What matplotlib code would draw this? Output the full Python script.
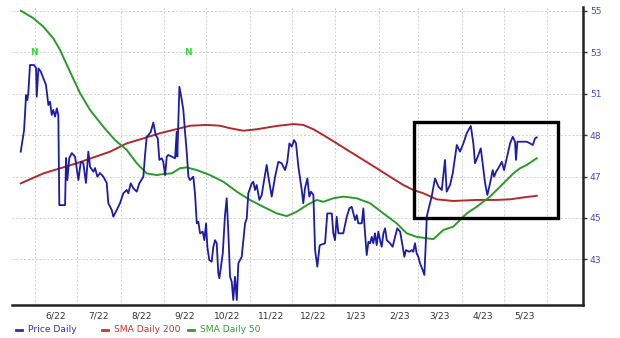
import pandas as pd
import matplotlib
matplotlib.use('Agg')
import matplotlib.pyplot as plt
import matplotlib.dates as mdates
from matplotlib.patches import Rectangle

# Chart values (x = days since 2022-06-01)
base = pd.Timestamp('2022-06-01')

price_days = [-10.2, -7.8, -6.4, -5.5, -4.8, -3.6, -0.7, 0.7, 1.2, 2.4, 4.1, 7.8, 9.5, 10.7, 11.9,
              13.0, 14.3, 15.5, 16.6, 17.3, 21.4, 22.1, 23.0, 24.4, 26.2, 28.5, 30.9, 32.6, 34.4,
              36.3, 38.0, 39.2, 41.6, 42.8, 44.4, 46.3, 48.7, 51.1, 52.2, 54.7, 55.8, 58.2, 60.6,
              62.9, 65.4, 66.5, 68.2, 70.1, 72.5, 74.3, 77.2, 78.4, 79.6, 80.8, 82.5, 84.3, 86.0,
              87.5, 88.6, 90.3, 91.4, 92.7, 93.9, 95.0, 97.4, 99.8, 101.0, 101.4, 102.9, 104.6,
              105.7, 106.9, 108.1, 109.3, 110.5, 112.8, 114.0, 115.3, 116.4, 117.6, 119.5, 120.7,
              121.9, 122.8, 124.2, 125.9, 127.1, 128.3, 129.5, 130.6, 131.4, 133.8, 135.4, 136.6,
              137.8, 139.0, 140.2, 141.3, 142.5, 143.8, 144.9, 147.3, 149.7, 150.9, 152.0, 154.5,
              155.6, 156.8, 158.0, 159.9, 161.6, 162.7, 165.1, 166.3, 168.7, 171.1, 173.4, 175.8,
              178.2, 179.8, 181.3, 183.0, 184.6, 186.0, 187.7, 190.1, 191.2, 192.4, 194.1, 195.5,
              196.7, 198.4, 199.6, 201.2, 202.8, 203.1, 206.7, 208.3, 211.5, 212.6, 213.8, 215.0,
              216.2, 219.7, 222.2, 224.0, 225.7, 226.9, 228.1, 229.3, 230.4, 232.9, 234.0, 235.2,
              236.4, 237.6, 238.8, 240.0, 241.1, 242.3, 243.5, 244.7, 245.9, 247.1, 248.3, 249.5,
              250.7, 253.0, 254.9, 256.6, 258.2, 260.2, 262.1, 263.2, 264.4, 266.8, 268.5, 269.6,
              270.8, 272.0, 273.2, 274.4, 276.3, 277.5, 278.7, 279.2, 280.3, 282.7, 285.1, 287.5,
              289.9, 292.2, 293.4, 295.8, 297.7, 299.4, 300.6, 302.9, 305.3, 307.7, 310.6, 312.4,
              313.6, 316.0, 317.7, 319.6, 320.8, 322.4, 324.3, 326.2, 327.2, 328.6, 330.2, 332.7,
              334.3, 336.2, 338.6, 340.5, 342.1, 342.8, 343.8, 346.9, 350.5, 352.8, 354.8, 356.4,
              357.6]
price = [48.20, 49.24, 50.93, 50.69, 51.02, 52.38, 52.38, 52.24, 50.85, 52.22, 52.06, 51.42, 50.45,
         50.61, 49.97, 50.21, 49.89, 50.29, 49.97, 45.62, 45.62, 47.89, 46.83, 47.89, 48.13, 47.96,
         46.83, 47.71, 47.65, 46.69, 48.20, 47.47, 47.23, 47.41, 46.99, 47.17, 46.99, 46.69, 45.72,
         45.38, 45.06, 45.38, 45.72, 46.19, 46.35, 46.19, 46.67, 46.43, 46.27, 46.67, 46.99, 48.04,
         48.92, 49.00, 49.16, 49.60, 49.00, 48.84, 47.80, 47.88, 47.71, 47.07, 47.96, 48.04, 47.96,
         47.88, 49.16, 47.96, 51.33, 50.69, 50.21, 49.16, 48.20, 46.99, 46.83, 46.99, 46.19, 44.74,
         44.82, 44.26, 44.34, 43.93, 44.74, 43.61, 42.97, 42.89, 43.61, 43.93, 43.78, 42.33, 42.09,
         43.29, 45.14, 45.95, 44.26, 42.16, 41.92, 41.04, 42.16, 41.04, 42.81, 43.13, 44.74, 44.98,
         46.19, 46.67, 46.75, 46.35, 46.59, 45.87, 46.11, 46.59, 47.56, 46.99, 46.03, 46.99, 47.71,
         47.64, 47.31, 47.71, 48.60, 48.44, 48.76, 48.60, 47.47, 46.35, 45.71, 46.43, 46.91, 46.03,
         46.27, 46.11, 43.45, 42.65, 43.64, 43.69, 43.78, 45.22, 45.22, 44.26, 43.93, 45.06, 44.26,
         44.26, 45.06, 45.46, 45.54, 45.22, 44.90, 45.14, 44.74, 44.74, 45.46, 44.26, 43.21, 43.85,
         43.78, 44.09, 43.78, 44.26, 43.69, 44.34, 43.93, 43.61, 44.26, 44.50, 43.93, 43.78, 43.61,
         44.09, 44.50, 44.34, 43.61, 43.13, 43.45, 43.37, 43.45, 43.37, 43.78, 43.29, 43.13, 42.81,
         42.49, 42.25, 44.09, 45.06, 45.38, 46.03, 46.91, 46.51, 46.35, 47.80, 46.27, 46.59, 47.15,
         47.96, 48.52, 48.20, 48.60, 49.09, 49.44, 48.60, 47.64, 48.04, 48.36, 47.31, 46.67, 46.11,
         46.67, 47.31, 46.99, 47.23, 47.40, 47.71, 47.31, 47.88, 48.60, 48.92, 48.68, 47.80, 48.68,
         48.68, 48.68, 48.60, 48.52, 48.84, 48.89]

sma50_days = [-10.2, -1.2, 5.9, 13.0, 17.8, 24.9, 32.1, 39.2, 48.7, 57.0, 65.4, 72.5, 79.6, 86.7,
              91.4, 97.4, 103.3, 108.1, 115.3, 124.7, 134.2, 143.8, 153.2, 162.7, 172.3, 179.4,
              186.5, 193.7, 200.8, 205.5, 212.6, 219.7, 229.3, 238.8, 248.3, 257.8, 264.9, 272.0,
              279.2, 283.9, 291.0, 298.1, 302.9, 307.7, 314.8, 324.3, 333.8, 340.9, 345.7, 350.5,
              357.6]
sma50 = [55.00, 54.64, 54.23, 53.67, 53.11, 52.06, 51.02, 50.21, 49.40, 48.76, 48.28, 47.64, 47.15,
         47.07, 47.12, 47.15, 47.40, 47.44, 47.31, 47.07, 46.75, 46.27, 45.87, 45.54, 45.22, 45.09,
         45.30, 45.62, 45.87, 45.78, 45.95, 46.03, 45.95, 45.71, 45.22, 44.74, 44.26, 44.09, 44.02,
         43.98, 44.42, 44.58, 44.90, 45.22, 45.54, 46.03, 46.67, 47.15, 47.40, 47.56, 47.88]

sma200_days = [-10.2, 5.9, 29.7, 53.5, 65.4, 77.2, 89.1, 101.0, 110.5, 122.4, 131.9, 139.0, 148.5,
               158.0, 172.3, 184.1, 191.2, 198.4, 205.5, 215.0, 224.5, 234.0, 243.5, 253.0, 262.5,
               269.6, 276.8, 286.3, 298.1, 314.8, 329.1, 338.6, 348.0, 357.6]
sma200 = [46.67, 47.15, 47.64, 48.20, 48.60, 48.84, 49.09, 49.29, 49.45, 49.49, 49.45, 49.33, 49.21,
          49.28, 49.44, 49.53, 49.49, 49.28, 49.00, 48.60, 48.20, 47.80, 47.40, 46.99, 46.59, 46.35,
          46.19, 45.90, 45.82, 45.87, 45.87, 45.90, 45.99, 46.07]

signal_days = [-0.5, 109.3]
signal_level = 53.0

month_labels = ['6/22', '7/22', '8/22', '9/22', '10/22', '11/22', '12/22',
                '1/23', '2/23', '3/23', '4/23', '5/23']
y_ticks = [43, 45, 47, 49, 51, 53, 55]
y_labels = ['43', '45', '47', '48', '51', '53', '55']

# highlight box (days, values)
box_days = (270.1, 372.5)
box_vals = (45.0, 49.63)


def to_dates(days):
    return base + pd.to_timedelta(days, unit='D')


fig = plt.figure(figsize=(6.2, 3.38), dpi=100)
ax = fig.add_axes([0.0194, 0.0976, 0.921, 0.8817])

ax.plot(to_dates(sma200_days), sma200, color='#b02a2a', lw=1.4, zorder=3)
ax.plot(to_dates(sma50_days), sma50, color='#2a9a2a', lw=1.4, zorder=3)
ax.plot(to_dates(price_days), price, color='#1c1ca8', lw=1.3, zorder=4)

for d in signal_days:
    ax.text(to_dates([d])[0], signal_level, 'N', color='#33dd33', fontsize=6.5,
            fontweight='bold', ha='center', va='center')

x0, x1 = to_dates(list(box_days))
ax.add_patch(Rectangle((mdates.date2num(x0), box_vals[0]),
                       mdates.date2num(x1) - mdates.date2num(x0), box_vals[1] - box_vals[0],
                       fill=False, edgecolor='black', lw=2.4, zorder=5))

# axes
ax.set_xlim(to_dates([-16.4])[0], to_dates([390.6])[0])
ax.set_ylim(40.8, 55.18)

month_starts = pd.date_range('2022-06-01', periods=13, freq='MS')
mid_months = month_starts[:-1] + pd.Timedelta(days=15)
ax.set_xticks(month_starts)
ax.set_xticklabels([])
ax.set_xticks(mid_months, minor=True)
ax.set_xticklabels(month_labels, minor=True)
ax.tick_params(axis='x', which='major', length=0)
ax.tick_params(axis='x', which='minor', length=0, pad=5, labelsize=6.6, labelcolor='#333333')

ax.yaxis.tick_right()
ax.set_yticks(y_ticks)
ax.set_yticklabels(y_labels)
ax.tick_params(axis='y', length=3, width=1, color='#333333', pad=2,
               labelsize=6.6, labelcolor='#4848c8')

ax.grid(True, which='major', color='#d0d0d0', linestyle=(0, (2, 2)), lw=0.7)
ax.set_axisbelow(True)

for s in ['top', 'left']:
    ax.spines[s].set_visible(False)
ax.spines['bottom'].set_linewidth(1.8)
ax.spines['bottom'].set_color('#222222')
ax.spines['right'].set_linewidth(1.8)
ax.spines['right'].set_color('#222222')

# legend along the bottom
legend_items = ['Price Daily', 'SMA Daily 200', 'SMA Daily 50']
legend_colors = ['#3030b0', '#cc3333', '#3a9a3a']
legend_x = [16, 102, 188]
for name, col, x in zip(legend_items, legend_colors, legend_x):
    fig.lines.append(plt.Line2D([x / 620, (x + 6) / 620], [1 - 329.5 / 338] * 2,
                                transform=fig.transFigure, color=col, lw=2))
    fig.text((x + 12) / 620, 1 - 329.5 / 338, name, color=col, fontsize=6.6, va='center')

fig.savefig('out.png', dpi=100)
